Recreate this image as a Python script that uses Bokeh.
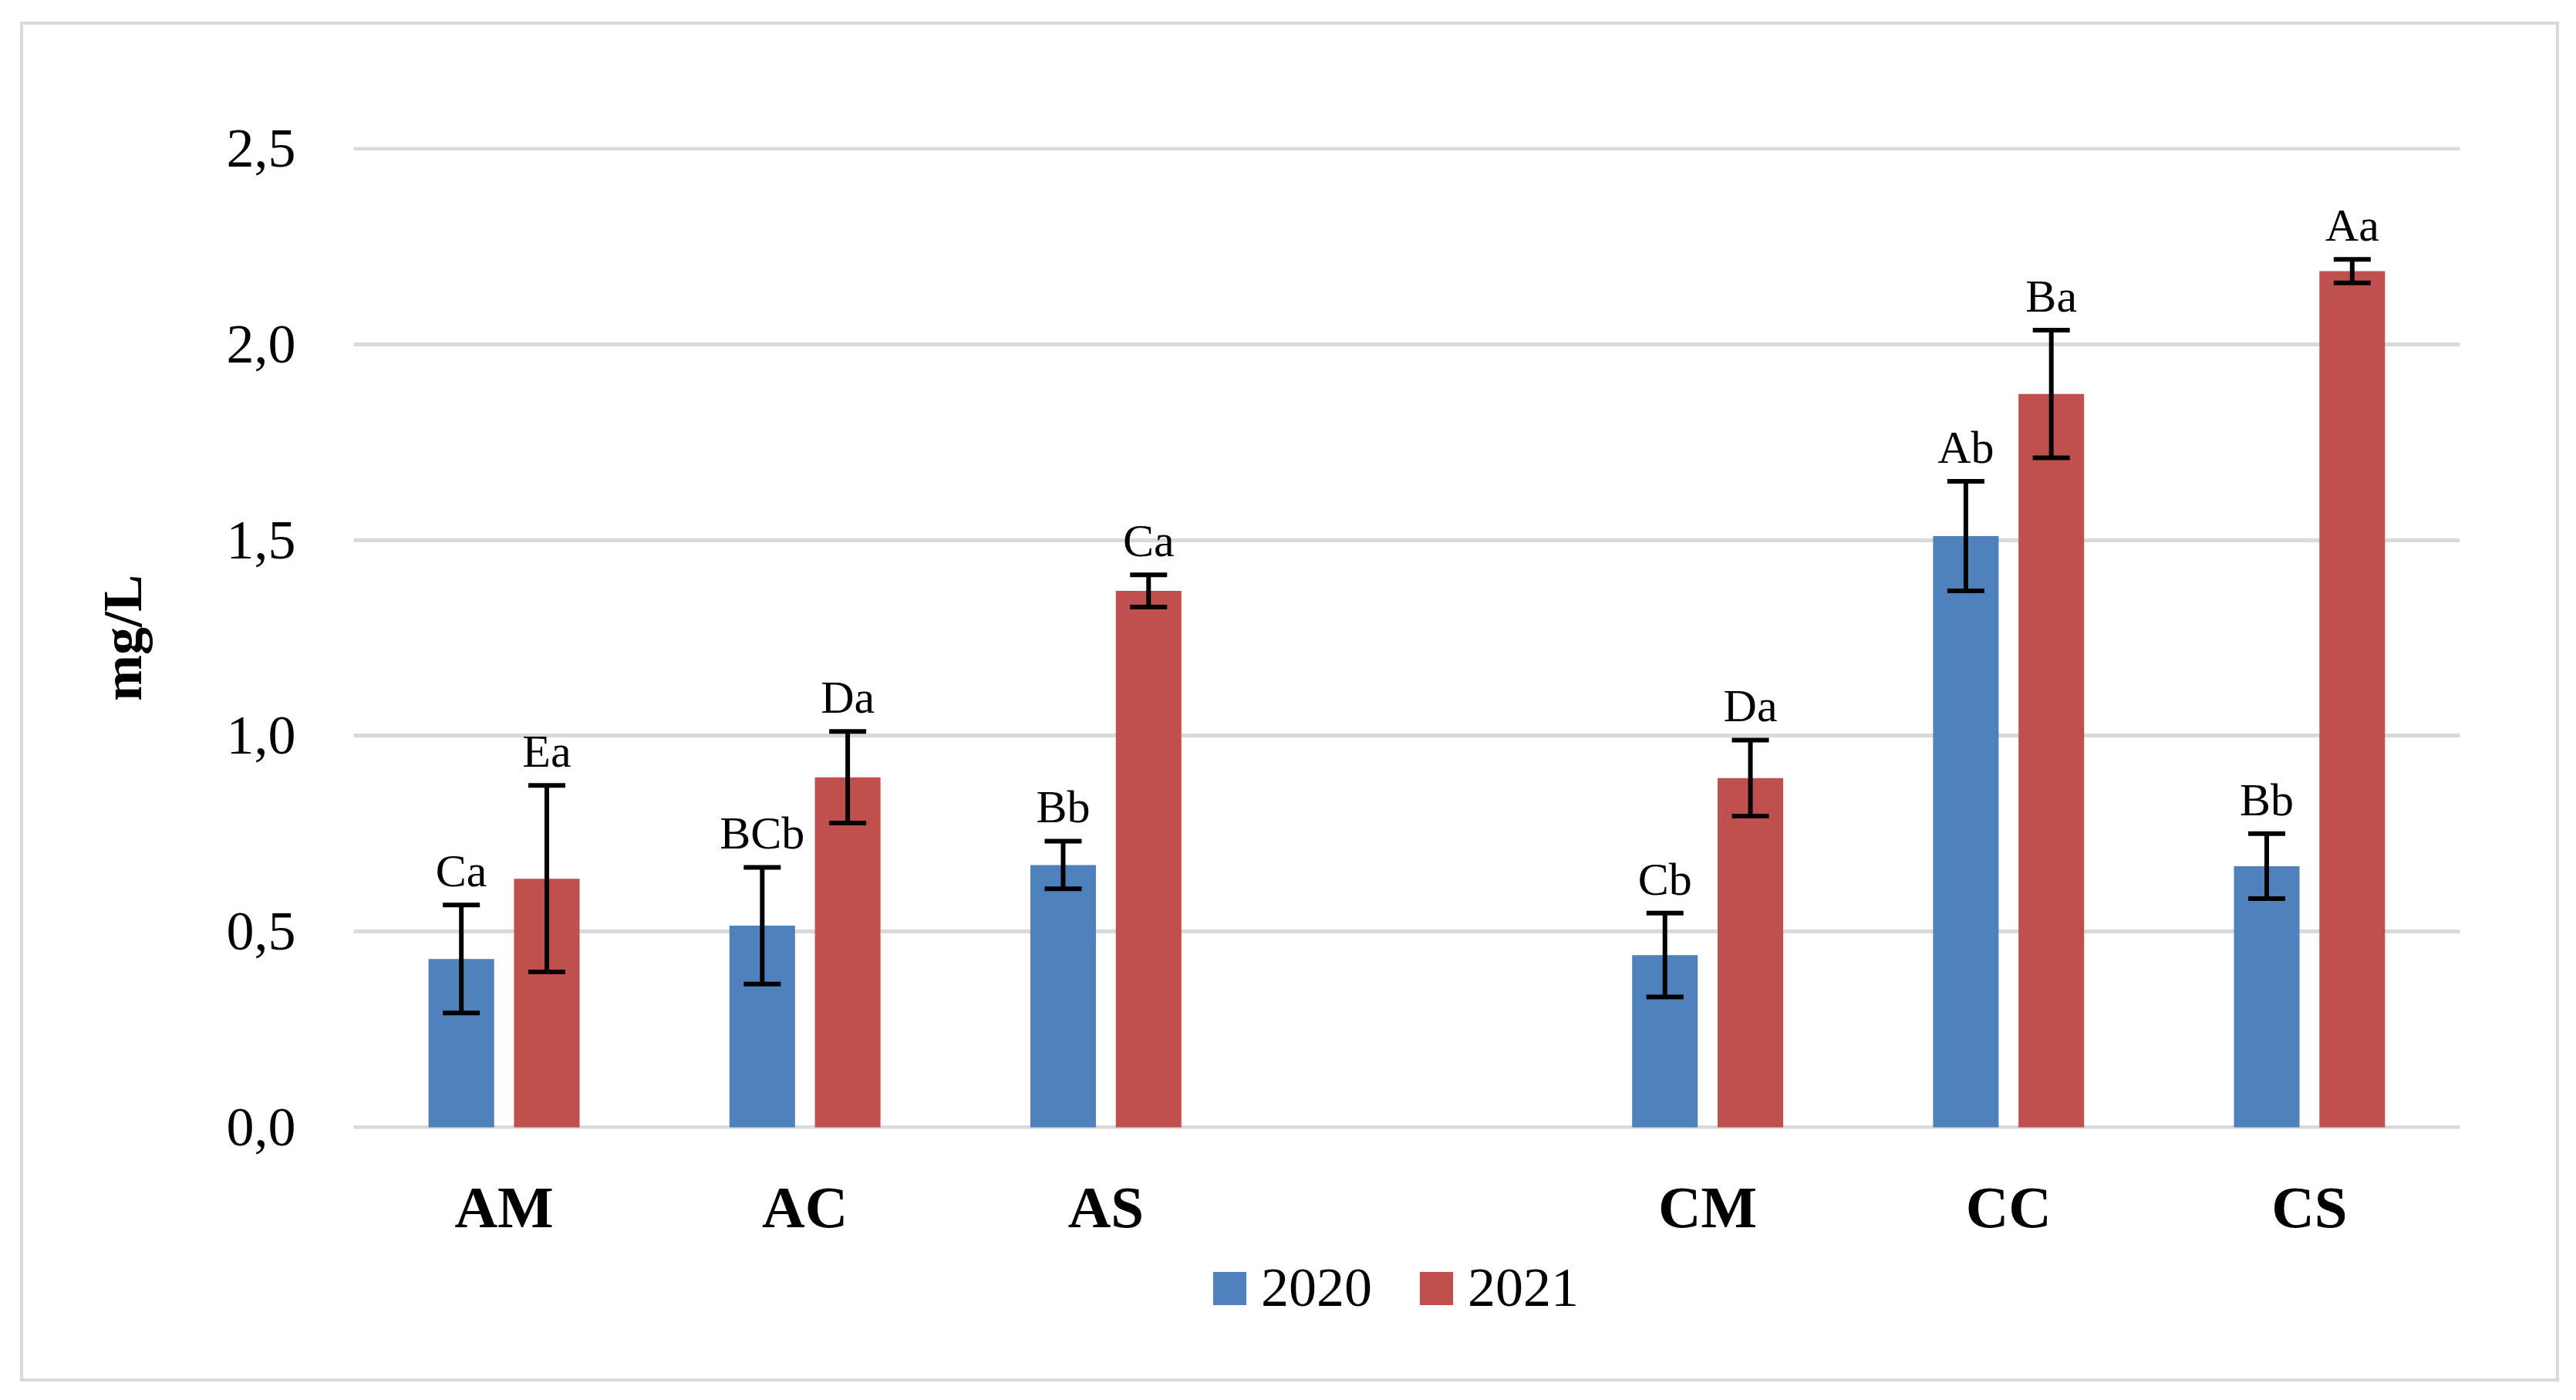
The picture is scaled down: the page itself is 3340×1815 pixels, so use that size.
from bokeh.plotting import figure
from bokeh.layouts import column
from bokeh.models import (ColumnDataSource, Whisker, TeeHead, FixedTicker, Legend, LegendItem,
                          Range1d, FactorRange)
from bokeh.transform import dodge
from bokeh.core.properties import value
from bokeh.embed import file_html
from bokeh.resources import INLINE

# ---- data ----
categories = ["AM", "AC", "AS", " ", "CM", "CC", "CS"]
groups = ["AM", "AC", "AS", "CM", "CC", "CS"]
series_names = ["2020", "2021"]
values_2020 = [0.43, 0.515, 0.67, 0.44, 1.51, 0.667]
errors_2020 = [0.138, 0.149, 0.061, 0.107, 0.14, 0.083]
letters_2020 = ["Ca", "BCb", "Bb", "Cb", "Ab", "Bb"]
values_2021 = [0.635, 0.894, 1.37, 0.892, 1.873, 2.187]
errors_2021 = [0.238, 0.117, 0.041, 0.097, 0.163, 0.03]
letters_2021 = ["Ea", "Da", "Ca", "Da", "Ba", "Aa"]
y_ticks = [0.0, 0.5, 1.0, 1.5, 2.0, 2.5]
y_tick_labels = ["0,0", "0,5", "1,0", "1,5", "2,0", "2,5"]
y_axis_title = "mg/L"

BLUE = "#4f81bd"
RED = "#c0504d"
GRID = "#d9d9d9"
SERIF = "Liberation Serif"

# inner area of the bordered box
W = 3284
H_MAIN = 1595
H_LEG = 160
FL, FR_, FT, FB = 428, 125, 158, 164

p = figure(width=W, height=H_MAIN, output_backend="svg", toolbar_location=None,
           x_range=FactorRange(factors=categories, range_padding=0),
           y_range=Range1d(-0.004, 2.504),
           min_border_left=FL, min_border_right=FR_, min_border_top=FT, min_border_bottom=FB)
p.outline_line_color = None
p.background_fill_color = "white"
p.border_fill_color = "white"

def make_src(vals, errs, labs):
    return ColumnDataSource(dict(
        cat=groups, val=vals,
        upper=[v + e for v, e in zip(vals, errs)],
        lower=[v - e for v, e in zip(vals, errs)],
        lab=labs))

src20 = make_src(values_2020, errors_2020, letters_2020)
src21 = make_src(values_2021, errors_2021, letters_2021)

OFF = 0.142
BW = 0.218
p.vbar(x=dodge("cat", -OFF, range=p.x_range), top="val", bottom=0, width=BW,
       source=src20, fill_color=BLUE, line_color=None)
p.vbar(x=dodge("cat", OFF, range=p.x_range), top="val", bottom=0, width=BW,
       source=src21, fill_color=RED, line_color=None)

for src, off in ((src20, -OFF), (src21, OFF)):
    w = Whisker(source=src, base=dodge("cat", off, range=p.x_range), upper="upper", lower="lower",
                line_width=6, line_color="black",
                upper_head=TeeHead(size=48, line_width=6, line_color="black"),
                lower_head=TeeHead(size=48, line_width=6, line_color="black"))
    w.level = "overlay"
    p.add_layout(w)
    p.text(x=dodge("cat", off, range=p.x_range), y="upper", text="lab", source=src,
           text_align="center", text_baseline="alphabetic", y_offset=-44,
           text_font=value(SERIF), text_font_size="60px", text_color="black")

# grid
p.xgrid.grid_line_color = None
p.ygrid.grid_line_color = GRID
p.ygrid.grid_line_width = 5
p.ygrid.ticker = FixedTicker(ticks=y_ticks)

# y axis
p.yaxis.ticker = FixedTicker(ticks=y_ticks)
p.yaxis.major_label_overrides = {t: l for t, l in zip(y_ticks, y_tick_labels)}
p.yaxis.axis_line_color = None
p.yaxis.major_tick_line_color = None
p.yaxis.minor_tick_line_color = None
p.yaxis.major_label_text_font = SERIF
p.yaxis.major_label_text_font_size = "72px"
p.yaxis.major_label_text_color = "black"
p.yaxis.major_label_standoff = 69
p.yaxis.axis_label = y_axis_title
p.yaxis.axis_label_text_font = SERIF
p.yaxis.axis_label_text_font_size = "72px"
p.yaxis.axis_label_text_font_style = "bold"
p.yaxis.axis_label_text_color = "black"
p.yaxis.axis_label_standoff = 92

# x axis
p.xaxis.axis_line_color = None
p.xaxis.major_tick_line_color = None
p.xaxis.minor_tick_line_color = None
p.xaxis.major_label_text_font = SERIF
p.xaxis.major_label_text_font_size = "77px"
p.xaxis.major_label_text_font_style = "bold"
p.xaxis.major_label_text_color = "black"
p.xaxis.major_label_standoff = 52

# legend strip: a small figure whose swatch renderers use the same sources,
# with a y range that keeps the bars themselves out of view
pl = figure(width=W, height=H_LEG, output_backend="svg", toolbar_location=None,
            x_range=p.x_range, y_range=Range1d(10, 11),
            x_axis_type=None, y_axis_type=None,
            min_border_left=0, min_border_right=0, min_border_top=0, min_border_bottom=0)
pl.outline_line_color = None
pl.xgrid.grid_line_color = None
pl.ygrid.grid_line_color = None
pl.border_fill_color = "white"
pl.background_fill_color = "white"
l20 = pl.vbar(x="cat", top="val", bottom=0, width=BW, source=src20, fill_color=BLUE, line_color=None)
l21 = pl.vbar(x="cat", top="val", bottom=0, width=BW, source=src21, fill_color=RED, line_color=None)
legend = Legend(items=[LegendItem(label=series_names[0], renderers=[l20]),
                       LegendItem(label=series_names[1], renderers=[l21])],
                orientation="horizontal", location=(1109, 76),
                glyph_width=54, glyph_height=54, label_height=54, label_standoff=14, spacing=56,
                padding=0, margin=0, border_line_color=None, background_fill_alpha=0,
                label_text_font=SERIF, label_text_font_size="72px", label_text_color="black")
pl.add_layout(legend, "center")

layout = column(p, pl, spacing=0, margin=(28, 0, 0, 26),
                styles={"border": "4px solid #d9d9d9", "background": "white"})

open("out.html", "w").write(file_html(layout, INLINE))
